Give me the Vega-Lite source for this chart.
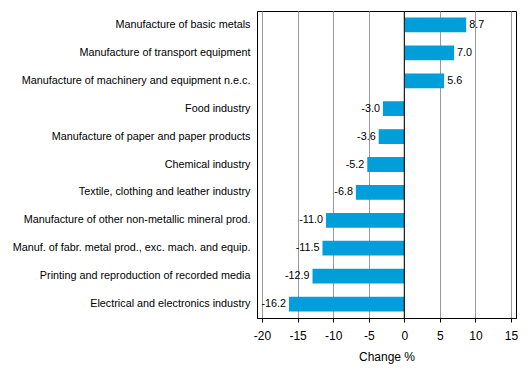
{
  "$schema": "https://vega.github.io/schema/vega-lite/v6.json",
  "autosize": "none",
  "width": 259,
  "height": 307,
  "padding": {"left": 257, "top": 11, "right": 13, "bottom": 59},
  "background": "white",
  "config": {
    "font": "Liberation Sans",
    "locale": {"number": {"decimal": ".", "thousands": ",", "grouping": [3], "currency": ["", ""], "minus": "-"}},
    "view": {"stroke": "black", "strokeWidth": 1},
    "axis": {"labelFont": "Liberation Sans", "titleFont": "Liberation Sans", "labelColor": "#000", "titleColor": "#000"},
    "axisX": {
      "tickCount": 8,
      "labelOverlap": false,
      "titleFontSize": 12,
      "titleFontWeight": "normal",
      "titlePadding": 10,
      "labelFontSize": 12,
      "labelPadding": 8,
      "tickSize": 4,
      "tickColor": "#000",
      "domainColor": "#000",
      "grid": true,
      "gridColor": "#999",
      "gridWidth": 1
    }
  },
  "data": {
    "values": [
      {"industry": "Manufacture of basic metals", "change": 8.7},
      {"industry": "Manufacture of transport equipment", "change": 7.0},
      {"industry": "Manufacture of machinery and equipment n.e.c.", "change": 5.6},
      {"industry": "Food industry", "change": -3.0},
      {"industry": "Manufacture of paper and paper products", "change": -3.6},
      {"industry": "Chemical industry", "change": -5.2},
      {"industry": "Textile, clothing and leather industry", "change": -6.8},
      {"industry": "Manufacture of other non-metallic mineral prod.", "change": -11.0},
      {"industry": "Manuf. of fabr. metal prod., exc. mach. and equip.", "change": -11.5},
      {"industry": "Printing and reproduction of recorded media", "change": -12.9},
      {"industry": "Electrical and electronics industry", "change": -16.2}
    ]
  },
  "encoding": {
    "y": {
      "field": "industry",
      "type": "nominal",
      "sort": [
        "Manufacture of basic metals",
        "Manufacture of transport equipment",
        "Manufacture of machinery and equipment n.e.c.",
        "Food industry",
        "Manufacture of paper and paper products",
        "Chemical industry",
        "Textile, clothing and leather industry",
        "Manufacture of other non-metallic mineral prod.",
        "Manuf. of fabr. metal prod., exc. mach. and equip.",
        "Printing and reproduction of recorded media",
        "Electrical and electronics industry"
      ],
      "scale": {"paddingInner": 0.47, "paddingOuter": 0.235},
      "axis": {"title": null, "ticks": false, "domain": false, "labelPadding": 7, "labelFontSize": 10.8, "labelLimit": 260}
    }
  },
  "layer": [
    {
      "mark": {"type": "bar", "color": "#009FDA"},
      "encoding": {
        "x": {
          "field": "change",
          "type": "quantitative",
          "title": "Change %",
          "scale": {"domain": [-20.7, 15.7], "nice": false, "zero": false}
        }
      }
    },
    {
      "mark": {"type": "rule", "color": "black", "strokeWidth": 1},
      "data": {"values": [{"z": 0}]},
      "encoding": {"x": {"field": "z", "type": "quantitative", "title": "Change %"}, "y": {"value": 0}, "y2": {"value": 307}}
    },
    {
      "transform": [{"filter": "datum.change >= 0"}],
      "mark": {"type": "text", "align": "left", "dx": 3, "fontSize": 10.8, "color": "#000"},
      "encoding": {
        "x": {"field": "change", "type": "quantitative"},
        "text": {"field": "change", "type": "quantitative", "format": ".1f"}
      }
    },
    {
      "transform": [{"filter": "datum.change < 0"}],
      "mark": {"type": "text", "align": "right", "dx": -3, "fontSize": 10.8, "color": "#000"},
      "encoding": {
        "x": {"field": "change", "type": "quantitative"},
        "text": {"field": "change", "type": "quantitative", "format": ".1f"}
      }
    }
  ]
}
